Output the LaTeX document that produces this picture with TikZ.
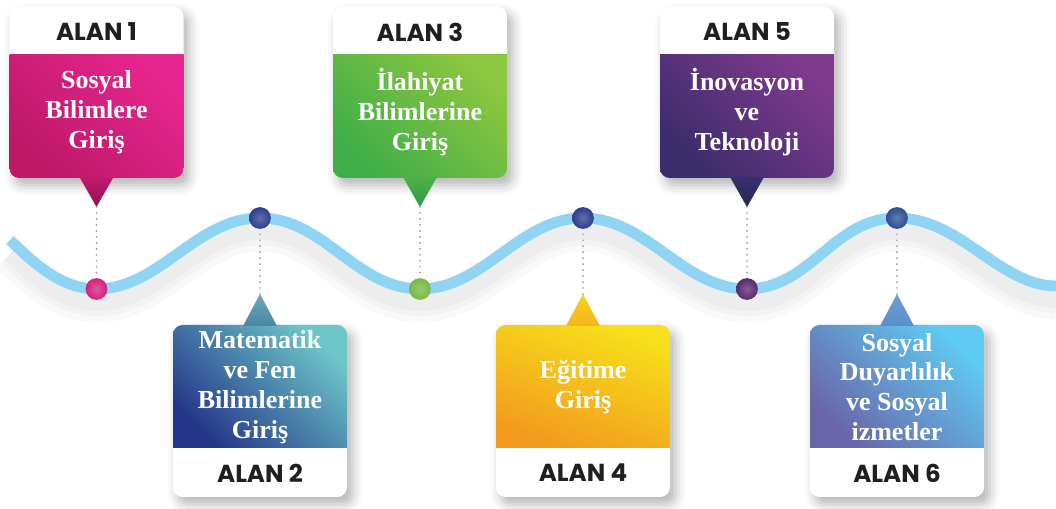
\documentclass[tikz,border=0pt]{standalone}
\usepackage{fontspec}
\setmainfont{Liberation Serif}
\newfontfamily\alanfont{Poppins}
\usetikzlibrary{shadows.blur}

\definecolor{wavecol}{HTML}{8FD4F3}
% colours of the cards (lower left, upper right), the pointers and the dots
\definecolor{c1ll}{HTML}{BD1868}\definecolor{c1ur}{HTML}{E6268E}
\definecolor{c2ll}{HTML}{25368A}\definecolor{c2ur}{HTML}{6CC6C8}
\definecolor{c3ll}{HTML}{3FAE49}\definecolor{c3ur}{HTML}{8DC63F}
\definecolor{c4ll}{HTML}{F29A1D}\definecolor{c4ur}{HTML}{F7E01B}
\definecolor{c5ll}{HTML}{3B2C6B}\definecolor{c5ur}{HTML}{7F3A8D}
\definecolor{c6ll}{HTML}{6A64A8}\definecolor{c6ur}{HTML}{5FCBF3}
\definecolor{t1a}{HTML}{C41A6C}\definecolor{t1b}{HTML}{8E1250}
\definecolor{t2a}{HTML}{6AA9B8}\definecolor{t2b}{HTML}{4A86A6}
\definecolor{t3a}{HTML}{4CB147}\definecolor{t3b}{HTML}{2E9A45}
\definecolor{t4a}{HTML}{F6D21A}\definecolor{t4b}{HTML}{F5B51B}
\definecolor{t5a}{HTML}{3A2F6C}\definecolor{t5b}{HTML}{262657}
\definecolor{t6a}{HTML}{6AA2D6}\definecolor{t6b}{HTML}{5A8EC8}
\definecolor{d1}{HTML}{D4217F}\definecolor{d2}{HTML}{2C3E8F}
\definecolor{d3}{HTML}{78B843}\definecolor{d4}{HTML}{2C3E8F}
\definecolor{d5}{HTML}{5A2A6A}\definecolor{d6}{HTML}{2C4F94}

\tikzset{
  wave/.style={line width=6.2pt, color=wavecol},
  halo/.style={black, opacity=0.025, yshift=-8pt},
  haloA/.style={halo, line width=22pt},
  haloB/.style={halo, line width=15pt},
  haloC/.style={halo, line width=9pt},
  card/.style={fill=white, rounded corners=5.5pt,
    blur shadow={shadow xshift=3pt, shadow yshift=-4pt, shadow blur radius=6pt, shadow opacity=30}},
  headtxt/.style={font=\alanfont\bfseries\fontsize{14}{16}\selectfont, text=black!88},
  bodytxt/.style={font=\bfseries\fontsize{14.8}{17}\selectfont, text=white, align=center, inner sep=0pt},
  dot/.style={circle, inner sep=0pt, minimum size=12.4pt},
  link/.style={gray!80, line width=1.1pt, line cap=round, dash pattern=on 0pt off 3.4pt}
}

\begin{document}
\begin{tikzpicture}[x=0.02cm, y=-0.02cm]
\useasboundingbox (0,0) rectangle (1056,509);

% the wave, with a soft shadow first
\foreach \s in {haloA,haloB,haloC,wave}
  \draw[\s] (10,240) .. controls (40,270) and (66,289) .. (96.5,289)
    .. controls (160,289) and (196,218) .. (260,218)
    .. controls (324,218) and (356,289) .. (420,289)
    .. controls (484,289) and (519,218) .. (583,218)
    .. controls (647,218) and (683,289) .. (747,289)
    .. controls (811,289) and (833,218) .. (897,218)
    .. controls (960,218) and (1000,286) .. (1056,286);

% cards above the wave
\foreach \n/\cx/\txt in {1/96.5/{Sosyal\\Bilimlere\\Giriş},
                         3/420/{İlahiyat\\Bilimlerine\\Giriş},
                         5/747/{İnovasyon\\ve\\Teknoloji}}{
  \fill[card] (\cx-87,7) rectangle (\cx+87,178);
  \begin{scope}
    \clip[rounded corners=5.5pt] (\cx-87,7) rectangle (\cx+87,178);
    \shade[top color=c\n ur, bottom color=c\n ll, shading angle=-45]
      (\cx-87,55) rectangle (\cx+87,178);
  \end{scope}
  \shade[top color=t\n a, bottom color=t\n b] (\cx-17,177) -- (\cx+17,177) -- (\cx,207) -- cycle;
  \coordinate (tip\n) at (\cx,207);
  \node[headtxt] (head\n) at (\cx,32) {ALAN \n};
  \node[bodytxt] (body\n) at (\cx,112) {\txt};
}

% cards below the wave
\foreach \n/\cx/\txt/\ang in {2/260/{Matematik\\ve Fen\\Bilimlerine\\Giriş}/-45,
                         4/583/{Eğitime\\Giriş}/-20,
                         6/897/{Sosyal\\Duyarlılık\\ve Sosyal\\izmetler}/-45}{
  \fill[card] (\cx-87,325) rectangle (\cx+87,497);
  \begin{scope}
    \clip[rounded corners=5.5pt] (\cx-87,325) rectangle (\cx+87,497);
    \shade[top color=c\n ur, bottom color=c\n ll, shading angle=\ang]
      (\cx-87,325) rectangle (\cx+87,448);
  \end{scope}
  \shade[top color=t\n a, bottom color=t\n b] (\cx-17,326) -- (\cx+17,326) -- (\cx,294) -- cycle;
  \coordinate (tip\n) at (\cx,294);
  \node[headtxt] (head\n) at (\cx,473) {ALAN \n};
  \node[bodytxt] (body\n) at (\cx,387) {\txt};
}

% dots on the wave and their dotted links
\foreach \n/\px/\py in {1/96.5/289, 2/260/218, 3/420/289, 4/583/218, 5/747/289, 6/897/218}{
  \node[dot, inner color=d\n!75!white, outer color=d\n] (dot\n) at (\px,\py) {};
  \draw[link] (tip\n) -- (dot\n);
}
\end{tikzpicture}
\end{document}
